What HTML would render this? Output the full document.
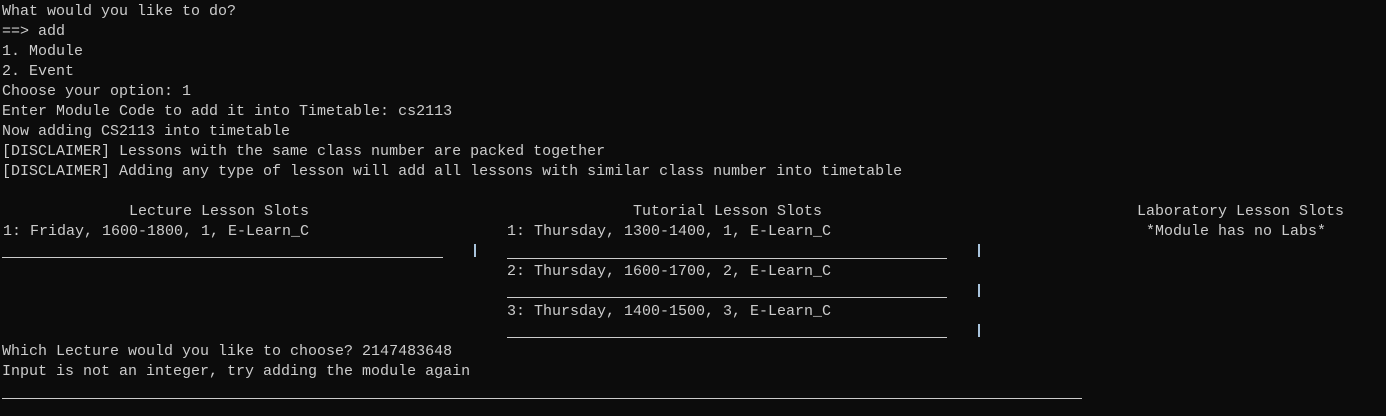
<!DOCTYPE html>
<html><head><meta charset="utf-8"><style>
html,body{margin:0;padding:0;background:#0c0c0c;width:1386px;height:416px;overflow:hidden}
.t{position:absolute;font-family:"Liberation Mono",monospace;font-size:15px;color:#cccccc;white-space:pre;line-height:20px}
.h{position:absolute;height:1px;background:#cccccc}
.v{position:absolute;width:2px;height:13px;background:#a9c4dc}
</style></head><body>
<div class="t" style="left:2px;top:2px">What would you like to do?
==&gt; add
1. Module
2. Event
Choose your option: 1
Enter Module Code to add it into Timetable: cs2113
Now adding CS2113 into timetable
[DISCLAIMER] Lessons with the same class number are packed together
[DISCLAIMER] Adding any type of lesson will add all lessons with similar class number into timetable</div>
<div class="t" style="left:129px;top:202px">Lecture Lesson Slots</div>
<div class="t" style="left:633px;top:202px">Tutorial Lesson Slots</div>
<div class="t" style="left:1137px;top:202px">Laboratory Lesson Slots</div>
<div class="t" style="left:3px;top:222px">1: Friday, 1600-1800, 1, E-Learn_C</div>
<div class="t" style="left:507px;top:222px">1: Thursday, 1300-1400, 1, E-Learn_C</div>
<div class="t" style="left:1146px;top:222px">*Module has no Labs*</div>
<div class="t" style="left:507px;top:262px">2: Thursday, 1600-1700, 2, E-Learn_C</div>
<div class="t" style="left:507px;top:302px">3: Thursday, 1400-1500, 3, E-Learn_C</div>
<div class="t" style="left:2px;top:342px">Which Lecture would you like to choose? 2147483648
Input is not an integer, try adding the module again</div>
<div class="h" style="left:2px;top:257px;width:441px"></div>
<div class="v" style="left:474px;top:244px"></div>
<div class="h" style="left:507px;top:258px;width:440px"></div>
<div class="v" style="left:978px;top:244px"></div>
<div class="h" style="left:507px;top:297px;width:440px"></div>
<div class="v" style="left:978px;top:284px"></div>
<div class="h" style="left:507px;top:337px;width:440px"></div>
<div class="v" style="left:978px;top:324px"></div>
<div class="h" style="left:2px;top:398px;width:1080px"></div>
</body></html>
